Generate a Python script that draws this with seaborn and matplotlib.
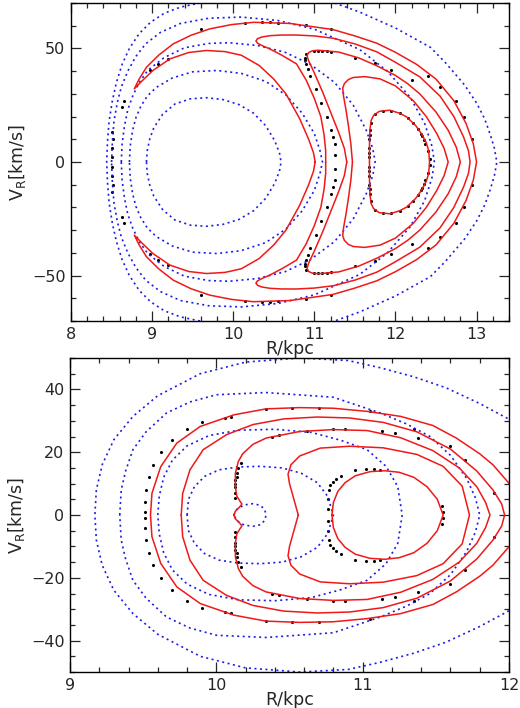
import numpy as np
import pandas as pd
import seaborn as sns
import matplotlib.pyplot as plt
from matplotlib.ticker import MultipleLocator

# upper halves (V_R >= 0), the curves are mirror symmetric in V_R
# ---- top panel ----
top_red = {
    "R1": ([11.68, 11.68, 11.685, 11.70, 11.73, 11.80, 11.93, 12.05, 12.14, 12.25, 12.32, 12.38, 12.41, 12.42],
           [0, 8, 14, 18.3, 20.5, 22.3, 22.8, 21.5, 19.8, 16, 12.5, 8.5, 5, 0]),
    "R2": ([11.47, 11.45, 11.42, 11.39, 11.36, 11.35, 11.37, 11.42, 11.48, 11.62, 11.81, 12.0, 12.22, 12.38,
            12.51, 12.60, 12.65],
           [0, 8, 16, 23, 29, 32.5, 34.5, 36.3, 37.2, 37.6, 36.6, 33.5, 27, 20, 12.5, 6, 0]),
    "R3": ([11.40, 11.37, 11.30, 11.20, 11.10, 10.99, 10.93, 10.91, 10.93, 10.98, 11.05, 11.30, 11.55, 11.78,
            12.0, 12.15, 12.30, 12.50, 12.65, 12.75, 12.80],
           [0, 6, 13, 22, 31, 40, 44.5, 46.8, 48.2, 49.0, 49.2, 48.4, 45.8, 42.2,
            38.1, 34.5, 30, 22, 14, 6.5, 0]),
    "R4": ([11.14, 11.14, 11.12, 11.08, 11.0, 10.9, 10.78, 10.6, 10.45, 10.36, 10.30, 10.28, 10.30, 10.35,
            10.45, 10.6, 10.78, 11.0, 11.23, 11.5, 11.77, 12.0, 12.3, 12.55, 12.72, 12.84, 12.90, 12.92],
           [0, 5, 12, 20, 28, 36, 43.2, 47, 49.8, 51.2, 52.3, 53.3, 54.3, 55.0,
            55.6, 55.9, 55.9, 55.5, 54.5, 52, 48.5, 43.9, 37.5, 29, 20, 11, 5, 0]),
    "R5": ([11.01, 10.99, 10.93, 10.82, 10.65, 10.50, 10.32, 10.10, 9.90, 9.67, 9.45, 9.22, 9.01, 8.87, 8.78,
            8.84, 8.93, 9.08, 9.26, 9.48, 9.71, 9.98, 10.25, 10.70, 11.23, 11.50, 11.77, 12.0, 12.26, 12.5,
            12.72, 12.87, 12.96, 13.0],
           [0, 4, 10, 19, 30, 36.5, 42.5, 47.0, 48.6, 49.1, 48.2, 45.4, 40.3, 35.5, 32.2,
            36.5, 41.7, 47, 52, 55.8, 58.6, 60.5, 61.5, 61, 58.3, 55.5, 52.3, 48.3, 43, 36.5,
            27, 17, 8, 0]),
}
top_blue = {
    "B1": ([8.93, 8.94, 8.97, 9.02, 9.13, 9.28, 9.47, 9.67, 9.87, 10.07, 10.25, 10.40, 10.51, 10.57, 10.59],
           [0, 5, 10, 15, 21, 25.5, 27.8, 28.3, 27.5, 25.3, 21.5, 16, 9.5, 4, 0]),
    "B2": ([8.72, 8.73, 8.76, 8.80, 8.86, 8.94, 9.05, 9.25, 9.50, 9.80, 10.10, 10.40, 10.65, 10.85, 11.0,
            11.07, 11.10],
           [0, 7, 14, 19.5, 24.5, 29, 32.8, 37, 39.7, 40.3, 39, 35.5, 29.5, 21.5, 12.5, 5, 0]),
    "B3": ([8.62, 8.63, 8.66, 8.70, 8.76, 8.84, 8.95, 9.15, 9.40, 9.70, 9.95, 10.30, 10.64, 10.95, 11.25,
            11.48, 11.64, 11.72, 11.75],
           [0, 8, 16, 23, 29, 35, 40.5, 46, 50.3, 52.2, 52.5, 51.3, 48.3, 43, 35, 25, 14, 6, 0]),
    "B4": ([8.50, 8.51, 8.53, 8.57, 8.62, 8.70, 8.80, 8.92, 9.10, 9.35, 9.70, 10.10, 10.55, 11.0, 11.56,
            11.90, 12.18, 12.36, 12.45, 12.48],
           [0, 9, 18, 26, 33, 40, 46.5, 52, 57, 61, 63.3, 63.8, 62.3, 58.5, 49.5, 40, 28.6, 17, 7, 0]),
    "B5a": ([8.44, 8.45, 8.47, 8.51, 8.56, 8.63, 8.72, 8.84, 8.98, 9.15, 9.35, 9.59],
            [0, 9, 18, 27, 35, 43, 50, 56.5, 61.5, 65.5, 68.2, 70]),
    "B5b": ([11.25, 11.56, 12.0, 12.43, 12.61, 12.85, 13.0, 13.10, 13.17, 13.22, 13.25],
            [70, 66, 59, 50.5, 44, 34, 26, 19, 12, 6, 0]),
}
top_dots_R = [11.68, 11.68, 11.68, 11.69, 11.70, 11.75, 11.85, 11.95, 12.05, 12.15, 12.22, 12.28, 12.33,
              12.37, 12.40, 12.42, 11.68, 11.69, 12.31, 12.35,
              10.90, 10.88, 10.90, 10.92, 10.95, 11.02, 11.08, 11.15, 11.20, 11.25, 11.26, 10.89, 11.23,
              11.0, 11.05, 11.1, 11.15, 11.2, 11.5, 11.75, 11.95, 12.2,
              12.4, 12.55, 12.75, 12.85, 12.95,
              9.6, 10.15, 10.35, 10.45, 10.55, 10.9, 11.2,
              9.2, 9.07, 8.98, 8.65, 8.63, 8.52, 8.51, 8.50, 8.51]
top_dots_V = [2, 6, 10, 14, 17, 21, 22.5, 22.6, 21.4, 19.5, 17, 14.5, 11.5,
              8, 5, 1.5, 4, 12, 12.5, 9.5,
              47.5, 45, 43, 41, 38, 32, 26, 20, 14, 8, 3, 46, 11,
              48.8, 48.9, 48.8, 48.7, 48.6, 46, 43.5, 40.5, 36,
              38, 33, 27, 20, 10,
              58.5, 61.3, 61.5, 61.5, 61.3, 60.3, 58.5,
              45.5, 43, 40.5, 27, 24, 10, 6, 2, 13]

# ---- bottom panel ----
bot_red = {
    "Rb1": ([10.79, 10.80, 10.83, 10.88, 10.95, 11.05, 11.15, 11.25, 11.35, 11.44, 11.51, 11.55],
            [0, 4, 7.5, 10.3, 12.5, 13.8, 14.1, 13.6, 12, 9, 5, 0]),
    "Rb2": ([10.56, 10.53, 10.50, 10.49, 10.51, 10.57, 10.71, 10.91, 11.14, 11.37, 11.55, 11.68, 11.73],
            [0, 5, 10, 13, 16, 18.8, 21.3, 21.9, 21.4, 19.3, 15.5, 9.2, 0]),
    "Rb3": ([10.12, 10.13, 10.16, 10.175, 10.16, 10.14, 10.13, 10.13, 10.15, 10.18, 10.25, 10.34, 10.57,
             10.80, 11.03, 11.26, 11.48, 11.66, 11.78, 11.84, 11.87],
            [0, 1.2, 2.6, 3.5, 4.5, 6, 9, 13.3, 17, 19.5, 22.5, 24.5, 26.6,
             27.2, 26.9, 24.6, 20.5, 15, 9, 4, 0]),
    "Rb4": ([9.76, 9.77, 9.82, 9.91, 10.07, 10.25, 10.46, 10.69, 10.91, 11.14, 11.37, 11.60, 11.78, 11.89,
             11.95, 11.97],
            [0, 6.9, 14.4, 20.8, 25.6, 28.8, 30.6, 31.2, 30.9, 29.5, 26.5, 21, 14, 8, 3.5, 0]),
    "Rb5": ([9.55, 9.56, 9.62, 9.73, 9.89, 10.12, 10.34, 10.57, 10.80, 11.03, 11.26, 11.48, 11.64, 11.80,
             11.89, 12.0],
            [0, 6.9, 15.4, 22.9, 28.2, 31.9, 33.8, 34.2, 34, 33, 31.4, 28.5, 24.5, 19.5, 16, 10.1]),
}
bot_blue = {
    "Bb1": ([10.12, 10.14, 10.19, 10.25, 10.30, 10.33, 10.34],
            [0, 1.8, 3.2, 3.6, 3.1, 1.8, 0]),
    "Bb2": ([9.80, 9.81, 9.85, 9.92, 10.02, 10.15, 10.30, 10.45, 10.58, 10.69, 10.76, 10.80],
            [0, 5, 9, 12.3, 14.4, 15.3, 15.5, 15, 13.3, 10.3, 6, 0]),
    "Bb3": ([9.60, 9.61, 9.64, 9.70, 9.80, 9.95, 10.15, 10.40, 10.65, 10.85, 11.03, 11.16, 11.24, 11.27],
            [0, 6, 12, 17.5, 22, 25.3, 27, 27.3, 26.3, 23.8, 20.8, 15.5, 9, 0]),
    "Bb4": ([9.34, 9.35, 9.38, 9.43, 9.52, 9.66, 9.82, 10.0, 10.34, 10.80, 11.12, 11.30, 11.46, 11.60,
             11.71, 11.77, 11.80],
            [0, 8, 14, 20.8, 26.5, 32.5, 36, 38.3, 39, 37.5, 32.5, 29, 25, 19, 11.7, 5.5, 0]),
    "Bb5": ([9.17, 9.18, 9.22, 9.30, 9.43, 9.60, 9.89, 10.2, 10.57, 10.9, 11.12, 11.35, 11.57, 11.80, 12.0],
            [0, 8, 16, 24, 31.4, 38, 45, 48.7, 50, 49.2, 46.9, 44, 40.5, 35.5, 30.5]),
}
bot_dots_R = [9.51, 9.51, 9.52, 9.54, 9.57, 9.62, 9.70, 9.80, 9.90, 10.06, 10.10,
              10.34, 10.52, 10.70, 11.05,
              10.38, 10.43, 10.62, 10.80, 10.88, 11.13, 11.22, 11.38, 11.70,
              10.13, 10.13, 10.14, 10.15, 10.17, 10.13, 10.13, 10.14, 10.13,
              10.76, 10.76, 10.77, 10.80, 10.85, 10.95, 11.02, 11.08, 11.12, 10.78, 10.82,
              11.55, 11.54, 11.35, 11.60, 11.90]
bot_dots_V = [1, 4, 8, 12, 16, 20, 24, 27.5, 29.5, 30.8, 31.2,
              33.9, 34.2, 34.1, 33.2,
              25, 25.5, 26.8, 27.3, 27.3, 26.6, 26, 24.5, 17.5,
              9, 11, 13.5, 15, 16.5, 5.5, 7, 12, 10,
              2, 5, 8, 10.5, 12.5, 14.2, 14.6, 14.6, 14.4, 9.5, 11.5,
              1, 3, 27.5, 22, 7]


def full_path(rs, vs):
    # mirror the upper half to V_R < 0
    low_r = list(rs[::-1])
    low_v = [-v for v in vs[::-1]]
    if vs[-1] == 0:
        return list(rs) + low_r[1:], list(vs) + low_v[1:]
    return low_r[:-1] + list(rs), low_v[:-1] + list(vs)


def curves_df(curves):
    rows = []
    for name, (rs, vs) in curves.items():
        r, v = full_path(rs, vs)
        for i, (a, b) in enumerate(zip(r, v)):
            rows.append({"curve": name, "i": i, "R": a, "V": b})
    return pd.DataFrame(rows)


def dots_df(rs, vs):
    return pd.DataFrame({"R": list(rs) + list(rs), "V": list(vs) + [-v for v in vs]})


def draw(ax, red, blue, dr, dv):
    sns.lineplot(data=curves_df(blue), x="R", y="V", units="curve", estimator=None, sort=False,
                 color="#1c1ce6", linewidth=1.2, linestyle=(0, (1.2, 2.1)), ax=ax, legend=False)
    sns.lineplot(data=curves_df(red), x="R", y="V", units="curve", estimator=None, sort=False,
                 color="#f01818", linewidth=1.1, ax=ax, legend=False)
    sns.scatterplot(data=dots_df(dr, dv), x="R", y="V", color="black", s=5, linewidth=0, ax=ax,
                    legend=False)
    ax.tick_params(which="both", direction="in", top=True, right=True, width=0.9, labelsize=11.5,
                   pad=4)
    ax.tick_params(which="major", length=7)
    ax.tick_params(which="minor", length=3.5)
    for s in ax.spines.values():
        s.set_linewidth(1.0)
        s.set_color("black")
    ax.set_xlabel("R/kpc", fontsize=12.5, labelpad=-1)
    ax.set_ylabel(r"V$_{\rm R}$[km/s]", fontsize=12.5, labelpad=3)


sns.set_theme(style="ticks")
plt.rcParams["font.family"] = ["DejaVu Sans"]

fig = plt.figure(figsize=(5.2, 7.08), dpi=100)
ax1 = fig.add_axes([71 / 520, 1 - 321 / 708, 438 / 520, 318 / 708])
ax2 = fig.add_axes([70 / 520, 1 - 672 / 708, 439 / 520, 314 / 708])

draw(ax1, top_red, top_blue, top_dots_R, top_dots_V)
ax1.set_xlim(8, 13.4)
ax1.set_ylim(-70, 70)
ax1.xaxis.set_major_locator(MultipleLocator(1))
ax1.xaxis.set_minor_locator(MultipleLocator(0.2))
ax1.yaxis.set_major_locator(MultipleLocator(50))
ax1.yaxis.set_minor_locator(MultipleLocator(10))

draw(ax2, bot_red, bot_blue, bot_dots_R, bot_dots_V)
ax2.set_xlim(9, 12)
ax2.set_ylim(-50, 50)
ax2.xaxis.set_major_locator(MultipleLocator(1))
ax2.xaxis.set_minor_locator(MultipleLocator(0.2))
ax2.yaxis.set_major_locator(MultipleLocator(20))
ax2.yaxis.set_minor_locator(MultipleLocator(5))

fig.savefig("out.png", dpi=100)
